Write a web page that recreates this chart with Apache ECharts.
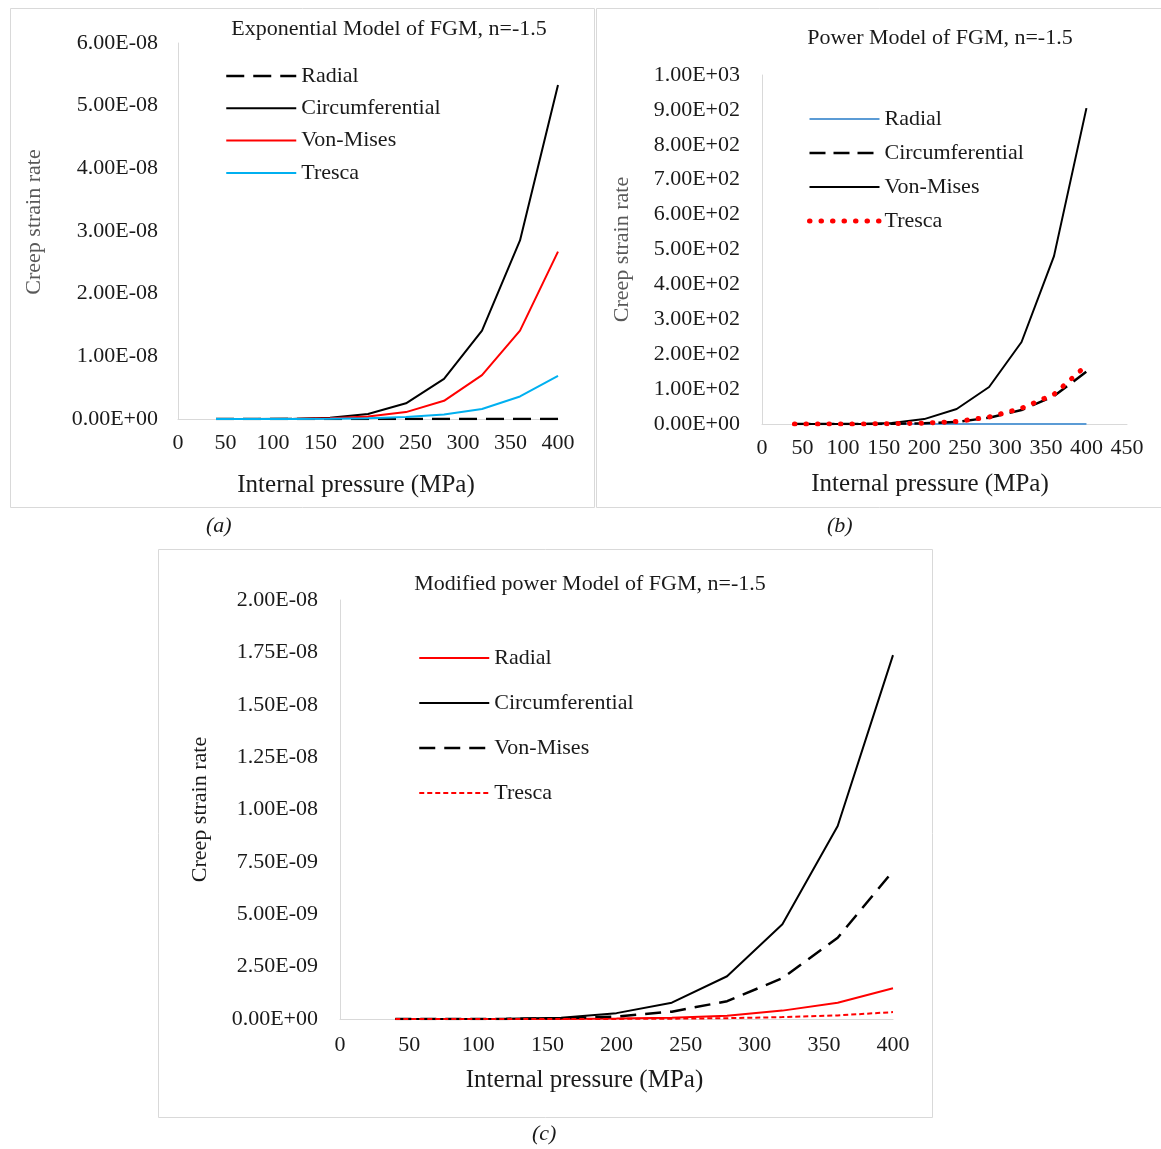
<!DOCTYPE html>
<html>
<head>
<meta charset="utf-8">
<script src="https://cdn.jsdelivr.net/npm/echarts@6/dist/echarts.min.js"></script>
<style>
html,body{margin:0;padding:0;background:#fff;}
#chart{width:1161px;height:1149px;}
</style>
</head>
<body>
<div id="chart"></div>
<script>
// ---- Data ----
const pressure = [40, 80, 120, 160, 200, 240, 280, 320, 360, 400];

// (a) Exponential model
const aRadial = [0, 0, 0, 0, 0, 0, 0, 0, 0, 0];
const aCirc   = [0, 0.0001e-8, 0.002e-8, 0.02e-8, 0.08e-8, 0.25e-8, 0.64e-8, 1.41e-8, 2.85e-8, 5.33e-8];
const aVM     = [0, 0, 0.001e-8, 0.01e-8, 0.04e-8, 0.11e-8, 0.29e-8, 0.70e-8, 1.41e-8, 2.67e-8];
const aTresca = [0, 0, 0, 0.003e-8, 0.01e-8, 0.03e-8, 0.07e-8, 0.16e-8, 0.36e-8, 0.69e-8];

// (b) Power model
const bRadial = [0, 0, 0, 0, 0, 0, 0, 0, 0, 0];
const bCirc   = [0, 0, 0, 0.5, 2, 6, 18, 40, 80, 150];
const bVM     = [0, 0, 0.3, 3, 14, 43, 106, 235, 481, 905];
const bTresca = [0, 0, 0.1, 0.8, 2.5, 7, 20, 45, 85, 168];

// (c) Modified power model
const cRadial = [0, 0, 0.0001e-8, 0.0005e-8, 0.002e-8, 0.006e-8, 0.015e-8, 0.040e-8, 0.078e-8, 0.147e-8];
const cCirc   = [0, 0.0002e-8, 0.001e-8, 0.006e-8, 0.028e-8, 0.078e-8, 0.204e-8, 0.452e-8, 0.921e-8, 1.737e-8];
const cVM     = [0, 0.0001e-8, 0.0005e-8, 0.003e-8, 0.012e-8, 0.035e-8, 0.085e-8, 0.195e-8, 0.388e-8, 0.706e-8];
const cTresca = [0, 0, 0, 0.0001e-8, 0.0005e-8, 0.0015e-8, 0.004e-8, 0.009e-8, 0.017e-8, 0.033e-8];

const titles = ['Exponential Model of FGM, n=-1.5', 'Power Model of FGM, n=-1.5', 'Modified power Model of FGM, n=-1.5'];
const xName = 'Internal pressure (MPa)';
const yName = 'Creep strain rate';
const seriesNames = ['Radial', 'Circumferential', 'Von-Mises', 'Tresca'];

// ---- Helpers ----
const FONT = '"Liberation Serif", "Times New Roman", serif';
function sci(v) {
  const s = Number(v).toExponential(2);
  const parts = s.split('e');
  const sign = parts[1][0];
  const d = parts[1].slice(1).padStart(2, '0');
  return parts[0] + 'E' + sign + d;
}
function pts(arr) { return pressure.map((p, i) => [p, arr[i]]); }

const gridDefs = [
  {left: 178, top: 43, width: 380, height: 376},
  {left: 762, top: 75, width: 365, height: 349},
  {left: 340, top: 600, width: 553, height: 419}
];
const xMax = [400, 450, 400];
const yMax = [6e-8, 1000, 2e-8];
const yInt = [1e-8, 100, 0.25e-8];
const xNameGap = [54, 48, 49];
const xNamePad = [[0, 24, 0, 0], [0, 29, 0, 0], [0, 64, 0, 0]];
const yNameGap = [133, 129, 129];
const yNamePad = [[0, 0, 0, 18], [0, 0, 0, 0], [0, 0, 0, 0]];
const yNameColor = ['#595959', '#595959', '#1a1a1a'];
const yLabelMargin = [20, 22, 22];
const xLabelMargin = [13, 13, 15];

const xAxes = [], yAxes = [];
for (let i = 0; i < 3; i++) {
  xAxes.push({
    gridIndex: i, type: 'value', min: 0, max: xMax[i], interval: 50,
    axisLine: {show: true, lineStyle: {color: '#d9d9d9', width: 1}},
    axisTick: {show: false}, splitLine: {show: false},
    axisLabel: {color: '#1a1a1a', fontFamily: FONT, fontSize: 22, margin: xLabelMargin[i]},
    name: xName, nameLocation: 'middle', nameGap: xNameGap[i],
    nameTextStyle: {color: '#1a1a1a', fontFamily: FONT, fontSize: 25, padding: xNamePad[i]}
  });
  yAxes.push({
    gridIndex: i, type: 'value', min: 0, max: yMax[i], interval: yInt[i],
    axisLine: {show: true, lineStyle: {color: '#d9d9d9', width: 1}},
    axisTick: {show: false}, splitLine: {show: false},
    axisLabel: {color: '#1a1a1a', fontFamily: FONT, fontSize: 22, margin: yLabelMargin[i], formatter: sci},
    name: yName, nameLocation: 'middle', nameGap: yNameGap[i],
    nameTextStyle: {color: yNameColor[i], fontFamily: FONT, fontSize: 22, padding: yNamePad[i]}
  });
}

function line(name, idx, arr, color, width, type, cap) {
  return {
    name: name, type: 'line', xAxisIndex: idx, yAxisIndex: idx,
    data: pts(arr), symbol: 'none', showSymbol: false, smooth: false,
    lineStyle: {color: color, width: width, type: type || 'solid', cap: cap || 'butt'},
    itemStyle: {color: color}
  };
}

const series = [
  line('Radial#a', 0, aRadial, '#000000', 2.5, [18, 9]),
  line('Circumferential#a', 0, aCirc, '#000000', 2),
  line('Von-Mises#a', 0, aVM, '#ff0000', 2),
  line('Tresca#a', 0, aTresca, '#00b0f0', 2),

  line('Radial#b', 1, bRadial, '#5b9bd5', 2),
  line('Circumferential#b', 1, bCirc, '#000000', 2.5, [16, 8]),
  line('Von-Mises#b', 1, bVM, '#000000', 2),
  line('Tresca#b', 1, bTresca, '#ff0000', 5, [0.5, 11], 'round'),

  line('Radial#c', 2, cRadial, '#ff0000', 2),
  line('Circumferential#c', 2, cCirc, '#000000', 2),
  line('Von-Mises#c', 2, cVM, '#000000', 2.5, [16, 9]),
  line('Tresca#c', 2, cTresca, '#ff0000', 2, [5, 3])
];

const legendPos = [
  {left: 225, top: 65, itemGap: 10.3},
  {left: 807, top: 108, itemGap: 12},
  {left: 418, top: 647, itemGap: 23}
];
const suffix = ['a', 'b', 'c'];
const legends = legendPos.map((p, i) => ({
  left: p.left, top: p.top, orient: 'vertical', itemGap: p.itemGap,
  itemWidth: 70, itemHeight: 20, padding: 0, selectedMode: false,
  data: seriesNames.map(n => {
    const nm = n + '#' + suffix[i];
    const s = series.find(se => se.name === nm);
    return {name: nm, lineStyle: {width: s.lineStyle.width}};
  }),
  formatter: n => n.split('#')[0],
  itemStyle: {opacity: 0},
  textStyle: {color: '#1a1a1a', fontFamily: FONT, fontSize: 22, lineHeight: 20}
}));

const titleCfg = [
  {x: 389, top: 18}, {x: 940, top: 27}, {x: 590, top: 573}
];
const titleArr = titleCfg.map((t, i) => ({
  text: titles[i], left: t.x, top: t.top, textAlign: 'center', padding: 0,
  textStyle: {color: '#1a1a1a', fontFamily: FONT, fontSize: 22, fontWeight: 'normal'}
}));

const chart = echarts.init(document.getElementById('chart'));
chart.setOption({
  animation: false,
  backgroundColor: '#ffffff',
  title: titleArr,
  grid: gridDefs,
  xAxis: xAxes,
  yAxis: yAxes,
  legend: legends,
  series: series,
  graphic: [
    {type: 'rect', shape: {x: 10.5, y: 8.5, width: 584, height: 499}, style: {fill: 'none', stroke: '#d9d9d9', lineWidth: 1}, silent: true},
    {type: 'rect', shape: {x: 596.5, y: 8.5, width: 570, height: 499}, style: {fill: 'none', stroke: '#d9d9d9', lineWidth: 1}, silent: true},
    {type: 'rect', shape: {x: 158.5, y: 549.5, width: 774, height: 568}, style: {fill: 'none', stroke: '#d9d9d9', lineWidth: 1}, silent: true},
    {type: 'text', left: 206, top: 515, style: {text: '(a)', font: 'italic 22px "Liberation Serif", serif', fill: '#1a1a1a'}},
    {type: 'text', left: 827, top: 515, style: {text: '(b)', font: 'italic 22px "Liberation Serif", serif', fill: '#1a1a1a'}},
    {type: 'text', left: 532, top: 1123, style: {text: '(c)', font: 'italic 22px "Liberation Serif", serif', fill: '#1a1a1a'}}
  ]
});
</script>
</body>
</html>
